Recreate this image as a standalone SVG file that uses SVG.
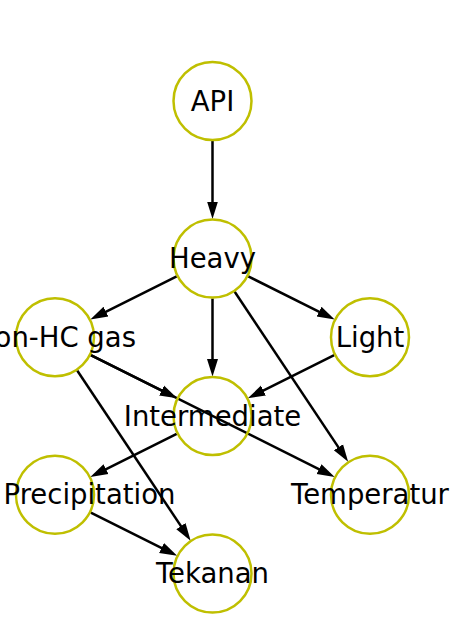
<svg xmlns="http://www.w3.org/2000/svg" width="472" height="629" viewBox="0 0 472 629">
<defs>
<marker id="arr" markerUnits="userSpaceOnUse" markerWidth="22" markerHeight="14" viewBox="0 -7 22 14" refX="7" refY="0" orient="auto">
<path d="M0,-5.5 L17.5,0 L0,5.5 z" fill="#000"/>
</marker>
<style>
.e{stroke:#000;stroke-width:2.5;fill:none;marker-end:url(#arr)}
.n circle{fill:none;stroke:#bfbf00;stroke-width:2.5}
.n text{font-family:"DejaVu Sans",sans-serif;font-size:27.5px;fill:#000;text-anchor:middle}
</style>
</defs>
<rect width="472" height="629" fill="#fff"/>
<g id="edges">
<line class="e" x1="212.5" y1="141" x2="212.5" y2="208.5"/>
<line class="e" x1="176.7" y1="276.4" x2="99.7" y2="314.8"/>
<line class="e" x1="248.3" y1="276.4" x2="325.3" y2="314.8"/>
<line class="e" x1="212.5" y1="298.5" x2="212.5" y2="366"/>
<line class="e" x1="234.7" y1="291.8" x2="342.3" y2="453.1"/>
<line class="e" x1="90.8" y1="355.1" x2="167.8" y2="393.6"/>
<line class="e" x1="90.8" y1="355.1" x2="325.3" y2="472.3"/>
<line class="e" x1="77.2" y1="370.5" x2="184.8" y2="531.9"/>
<line class="e" x1="334.2" y1="355.1" x2="257.2" y2="393.6"/>
<line class="e" x1="176.7" y1="433.9" x2="99.7" y2="472.3"/>
<line class="e" x1="90.8" y1="512.6" x2="167.8" y2="551.1"/>
</g>
<g id="api" class="n"><circle cx="212.5" cy="101" r="39"/><text x="212.5" y="110.5">API</text></g>
<g id="heavy" class="n"><circle cx="212.5" cy="258.5" r="39"/><text x="212.5" y="268">Heavy</text></g>
<g id="nonhc" class="n"><circle cx="55" cy="337.2" r="39"/><text x="55" y="346.7">Non-HC gas</text></g>
<g id="light" class="n"><circle cx="370" cy="337.2" r="39"/><text x="370" y="346.7">Light</text></g>
<g id="intermediate" class="n"><circle cx="212.5" cy="416" r="39"/><text x="212.5" y="425.5">Intermediate</text></g>
<g id="precipitation" class="n"><circle cx="55" cy="494.7" r="39"/><text x="89.5" y="504.2">Precipitation</text></g>
<g id="temperatur" class="n"><circle cx="370" cy="494.7" r="39"/><text x="370" y="504.2">Temperatur</text></g>
<g id="tekanan" class="n"><circle cx="212.5" cy="573.5" r="39"/><text x="212.5" y="583">Tekanan</text></g>
</svg>
